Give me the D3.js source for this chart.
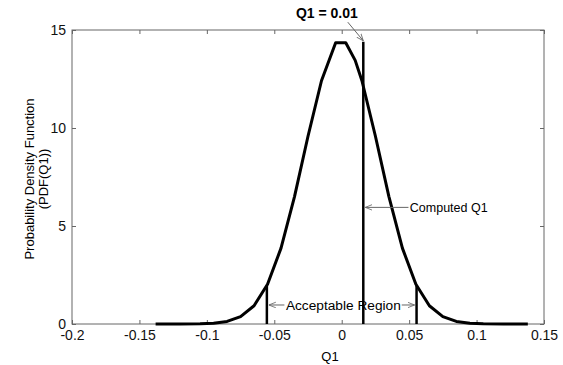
<!DOCTYPE html>
<html>
<head>
<meta charset="utf-8">
<script src="https://cdn.jsdelivr.net/npm/d3@7"></script>
<style>
  body { margin: 0; background: #fff; }
  svg { font-family: "Liberation Sans", Arial, sans-serif; }
</style>
</head>
<body>
<div id="chart"></div>
<script>
// valores
const q1Values  = [-0.138, -0.12, -0.105, -0.095, -0.085, -0.075, -0.065, -0.055, -0.045, -0.035, -0.025, -0.015, -0.0045, 0.003, 0.01, 0.015, 0.025, 0.035, 0.045, 0.055, 0.065, 0.075, 0.085, 0.095, 0.105, 0.12, 0.138];
const pdfValues = [0, 0, 0.01, 0.04, 0.13, 0.38, 0.93, 2.03, 3.87, 6.50, 9.58, 12.41, 14.35, 14.35, 13.45, 12.41, 9.58, 6.50, 3.87, 2.03, 0.93, 0.38, 0.13, 0.04, 0.01, 0, 0];

const xTicks = [-0.2, -0.15, -0.1, -0.05, 0, 0.05, 0.1, 0.15];
const yTicks = [0, 5, 10, 15];

const computedQ1 = 0.016;
const computedTop = 14.4;
const regionLimits = [-0.0555, 0.0555];
const regionTop = [1.95, 1.95];

const width = 563, height = 365;
const margin = {left: 72, right: 544, top: 30, bottom: 324};

const x = d3.scaleLinear().domain([-0.2, 0.15]).range([margin.left, margin.right]);
const y = d3.scaleLinear().domain([0, 15]).range([margin.bottom, margin.top]);

const svg = d3.select("#chart").append("svg")
    .attr("width", width)
    .attr("height", height);

// marcador de flecha abierta
svg.append("defs").append("marker")
    .attr("id", "arrow")
    .attr("viewBox", "0 0 10 10")
    .attr("refX", 10).attr("refY", 5)
    .attr("markerWidth", 7).attr("markerHeight", 7)
    .attr("markerUnits", "userSpaceOnUse")
    .attr("orient", "auto")
    .append("path")
    .attr("d", "M0,1 L10,5 L0,9")
    .attr("fill", "none")
    .attr("stroke", "#666")
    .attr("stroke-width", 1.2);

// caja y ejes
svg.append("rect")
    .attr("x", margin.left).attr("y", margin.top)
    .attr("width", margin.right - margin.left).attr("height", margin.bottom - margin.top)
    .attr("fill", "none").attr("stroke", "#666").attr("stroke-width", 1);

function estilo(g) {
    g.select(".domain").remove();
    g.selectAll(".tick line").attr("stroke", "#666");
    g.selectAll(".tick text").attr("fill", "#111").style("font-size", "14px");
}

// guion normal en lugar del signo menos unicode
const fmt = d => String(d);

svg.append("g")
    .attr("transform", "translate(0," + margin.bottom + ")")
    .call(d3.axisBottom(x).tickValues(xTicks).tickFormat(fmt).tickSizeInner(-4).tickSizeOuter(0).tickPadding(6))
    .call(estilo);

svg.append("g")
    .attr("transform", "translate(0," + margin.top + ")")
    .call(d3.axisTop(x).tickValues(xTicks).tickFormat("").tickSizeInner(-4).tickSizeOuter(0))
    .call(estilo);

svg.append("g")
    .attr("transform", "translate(" + margin.left + ",0)")
    .call(d3.axisLeft(y).tickValues(yTicks).tickFormat(fmt).tickSizeInner(-4).tickSizeOuter(0).tickPadding(6))
    .call(estilo);

svg.append("g")
    .attr("transform", "translate(" + margin.right + ",0)")
    .call(d3.axisRight(y).tickValues(yTicks).tickFormat("").tickSizeInner(-4).tickSizeOuter(0))
    .call(estilo);

// curva PDF
const data = q1Values.map((q, i) => ({q: q, p: pdfValues[i]}));
const line = d3.line()
    .x(d => x(d.q))
    .y(d => y(d.p));

svg.append("path")
    .datum(data)
    .attr("fill", "none")
    .attr("stroke", "#000")
    .attr("stroke-width", 3)
    .attr("stroke-linejoin", "round")
    .attr("d", line);

// lineas verticales
svg.append("line")
    .attr("x1", x(computedQ1)).attr("x2", x(computedQ1))
    .attr("y1", y(0)).attr("y2", y(computedTop))
    .attr("stroke", "#000").attr("stroke-width", 2.5);

regionLimits.forEach((q, i) => {
    svg.append("line")
        .attr("x1", x(q)).attr("x2", x(q))
        .attr("y1", y(0)).attr("y2", y(regionTop[i]))
        .attr("stroke", "#000").attr("stroke-width", 2.5);
});

// anotaciones
svg.append("text")
    .attr("x", x(-0.011)).attr("y", 18)
    .attr("text-anchor", "middle")
    .style("font-size", "14px").style("font-weight", "bold")
    .text("Q1 = 0.01");

svg.append("line")
    .attr("x1", x(0.0045)).attr("y1", y(15.4))
    .attr("x2", x(computedQ1)).attr("y2", y(computedTop) - 1)
    .attr("stroke", "#666").attr("stroke-width", 1)
    .attr("marker-end", "url(#arrow)");

svg.append("line")
    .attr("x1", x(0.0495)).attr("y1", y(5.95))
    .attr("x2", x(computedQ1) + 2).attr("y2", y(5.95))
    .attr("stroke", "#666").attr("stroke-width", 1)
    .attr("marker-end", "url(#arrow)");

svg.append("text")
    .attr("x", x(0.0505)).attr("y", y(5.95))
    .attr("dy", "0.35em")
    .style("font-size", "12.5px")
    .text("Computed Q1");

svg.append("line")
    .attr("x1", x(-0.0425)).attr("y1", y(0.97))
    .attr("x2", x(regionLimits[0]) + 2).attr("y2", y(0.97))
    .attr("stroke", "#666").attr("stroke-width", 1)
    .attr("marker-end", "url(#arrow)");

svg.append("line")
    .attr("x1", x(0.0445)).attr("y1", y(0.97))
    .attr("x2", x(regionLimits[1]) - 2).attr("y2", y(0.97))
    .attr("stroke", "#666").attr("stroke-width", 1)
    .attr("marker-end", "url(#arrow)");

svg.append("text")
    .attr("x", x(0.0012)).attr("y", y(0.97))
    .attr("dy", "0.35em")
    .attr("text-anchor", "middle")
    .style("font-size", "13.7px")
    .text("Acceptable Region");

// titulos de ejes
svg.append("text")
    .attr("x", 330).attr("y", 361)
    .attr("text-anchor", "middle")
    .style("font-size", "13px")
    .text("Q1");

const yLabel = svg.append("text")
    .attr("transform", "translate(34," + ((margin.top + margin.bottom) / 2 + 2) + ") rotate(-90)")
    .attr("text-anchor", "middle")
    .style("font-size", "13px");
yLabel.append("tspan").attr("x", 0).attr("dy", "0em").text("Probability Density Function");
yLabel.append("tspan").attr("x", 0).attr("dy", "1.1em").text("(PDF(Q1))");
</script>
</body>
</html>
